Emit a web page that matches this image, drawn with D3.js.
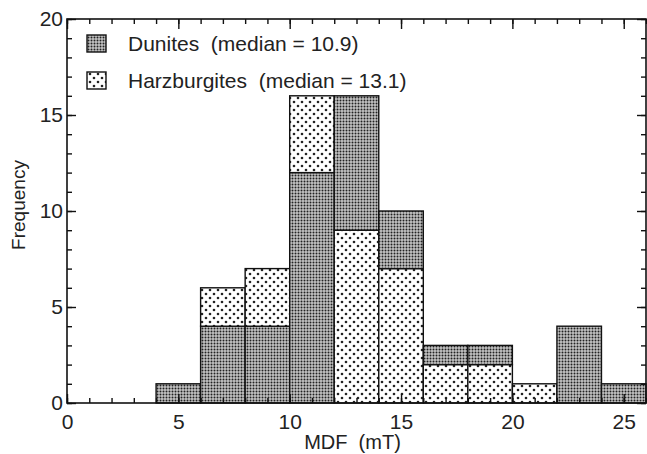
<!DOCTYPE html>
<html>
<head>
<meta charset="utf-8">
<script src="https://cdn.jsdelivr.net/npm/d3@7"></script>
<style>
  html, body { margin: 0; padding: 0; background: #fff; }
  svg { display: block; font-family: "Liberation Sans", Arial, sans-serif; }
</style>
</head>
<body>
<div id="chart"></div>
<script>
// MDF bins (mT), each bin is 2 mT wide
const binStarts = [4, 6, 8, 10, 12, 14, 16, 18, 20, 22, 24];
const binWidth = 2;
const dunites = [1, 4, 4, 12, 7, 3, 1, 1, 0, 4, 1];
const harzburgites = [0, 2, 3, 4, 9, 7, 2, 2, 1, 0, 0];
const seriesNames = ["Dunites\u00a0\u00a0(median = 10.9)", "Harzburgites\u00a0\u00a0(median = 13.1)"];
const xTicks = [0, 5, 10, 15, 20, 25];
const yTicks = [0, 5, 10, 15, 20];

function createHist(selector) {
    const width = 647, height = 454;
    const left = 67, right = 646, top = 19, bottom = 403;

    const x = d3.scaleLinear().domain([0, 26]).range([left, right]);
    const y = d3.scaleLinear().domain([0, 20]).range([bottom, top]);

    const svg = d3.select(selector).append("svg")
        .attr("width", width).attr("height", height);

    // fill patterns
    const defs = svg.append("defs");
    const pd = defs.append("pattern").attr("id", "patDun")
        .attr("patternUnits", "userSpaceOnUse").attr("width", 3).attr("height", 3);
    pd.append("rect").attr("width", 3).attr("height", 3).attr("fill", "#c4c4c4");
    pd.append("circle").attr("cx", 1.5).attr("cy", 1.5).attr("r", 1.0).attr("fill", "#222");

    const ph = defs.append("pattern").attr("id", "patHarz")
        .attr("patternUnits", "userSpaceOnUse").attr("width", 8).attr("height", 8);
    ph.append("rect").attr("width", 8).attr("height", 8).attr("fill", "#fff");
    ph.append("circle").attr("cx", 2).attr("cy", 2).attr("r", 1.3).attr("fill", "#222");
    ph.append("circle").attr("cx", 6).attr("cy", 6).attr("r", 1.3).attr("fill", "#222");

    const fills = ["url(#patDun)", "url(#patHarz)"];

    // stacked segments: larger count sits at the bottom of each bin
    const segs = [];
    binStarts.forEach((b, i) => {
        const vals = [dunites[i], harzburgites[i]];
        const order = vals[0] >= vals[1] ? [0, 1] : [1, 0];
        let y0 = 0;
        order.forEach(k => {
            if (vals[k] > 0) {
                segs.push({ x0: b, x1: b + binWidth, y0: y0, y1: y0 + vals[k], s: k });
                y0 += vals[k];
            }
        });
    });

    svg.append("g").selectAll("rect")
        .data(segs)
        .enter().append("rect")
        .attr("x", d => x(d.x0))
        .attr("y", d => y(d.y1))
        .attr("width", d => x(d.x1) - x(d.x0))
        .attr("height", d => y(d.y0) - y(d.y1))
        .attr("fill", d => fills[d.s])
        .attr("stroke", "#111")
        .attr("stroke-width", 1.4);

    // axes with inward ticks on all four sides
    const minorX = d3.range(0, 27);
    const minorY = d3.range(0, 21);
    function styleAxis(g) {
        g.select(".domain").remove();
        g.selectAll("line").attr("stroke", "#111").attr("stroke-width", 1.4);
        g.selectAll("text").attr("fill", "#222").style("font-size", "21px")
            .style("font-family", "\"Liberation Sans\", Arial, sans-serif");
    }
    svg.append("g").attr("transform", `translate(0,${bottom})`)
        .call(d3.axisBottom(x).tickValues(minorX).tickSize(-5).tickFormat("")).call(styleAxis);
    svg.append("g").attr("transform", `translate(0,${bottom})`)
        .call(d3.axisBottom(x).tickValues(xTicks).tickSize(-9).tickPadding(11)).call(styleAxis);
    svg.append("g").attr("transform", `translate(0,${top})`)
        .call(d3.axisTop(x).tickValues(minorX).tickSize(-5).tickFormat("")).call(styleAxis);
    svg.append("g").attr("transform", `translate(0,${top})`)
        .call(d3.axisTop(x).tickValues(xTicks).tickSize(-10).tickFormat("")).call(styleAxis);
    svg.append("g").attr("transform", `translate(${left},0)`)
        .call(d3.axisLeft(y).tickValues(minorY).tickSize(-5).tickFormat("")).call(styleAxis);
    svg.append("g").attr("transform", `translate(${left},0)`)
        .call(d3.axisLeft(y).tickValues(yTicks).tickSize(-9).tickPadding(4)).call(styleAxis);
    svg.append("g").attr("transform", `translate(${right},0)`)
        .call(d3.axisRight(y).tickValues(minorY).tickSize(-5).tickFormat("")).call(styleAxis);
    svg.append("g").attr("transform", `translate(${right},0)`)
        .call(d3.axisRight(y).tickValues(yTicks).tickSize(-9).tickFormat("")).call(styleAxis);

    // frame
    svg.append("rect")
        .attr("x", left).attr("y", top)
        .attr("width", right - left).attr("height", bottom - top)
        .attr("fill", "none").attr("stroke", "#111").attr("stroke-width", 1.6);

    // axis titles
    svg.append("text")
        .attr("x", (left + right) / 2 - 4).attr("y", 449)
        .attr("text-anchor", "middle")
        .style("font-size", "20px").attr("fill", "#222")
        .text("MDF\u00a0\u00a0(mT)");
    svg.append("text")
        .attr("transform", `translate(25,${(top + bottom) / 2 - 6}) rotate(-90)`)
        .attr("text-anchor", "middle")
        .style("font-size", "19px").attr("fill", "#222")
        .text("Frequency");

    // legend
    const leg = svg.append("g");
    seriesNames.forEach((name, i) => {
        const ly = 35 + i * 37;
        leg.append("rect")
            .attr("x", 87).attr("y", ly).attr("width", 19).attr("height", 17)
            .attr("fill", fills[i]).attr("stroke", "#111").attr("stroke-width", 1.4);
        leg.append("text")
            .attr("x", 128).attr("y", ly + 16)
            .style("font-size", "21px").attr("fill", "#222")
            .text(name);
    });
}

createHist("#chart");
</script>
</body>
</html>
